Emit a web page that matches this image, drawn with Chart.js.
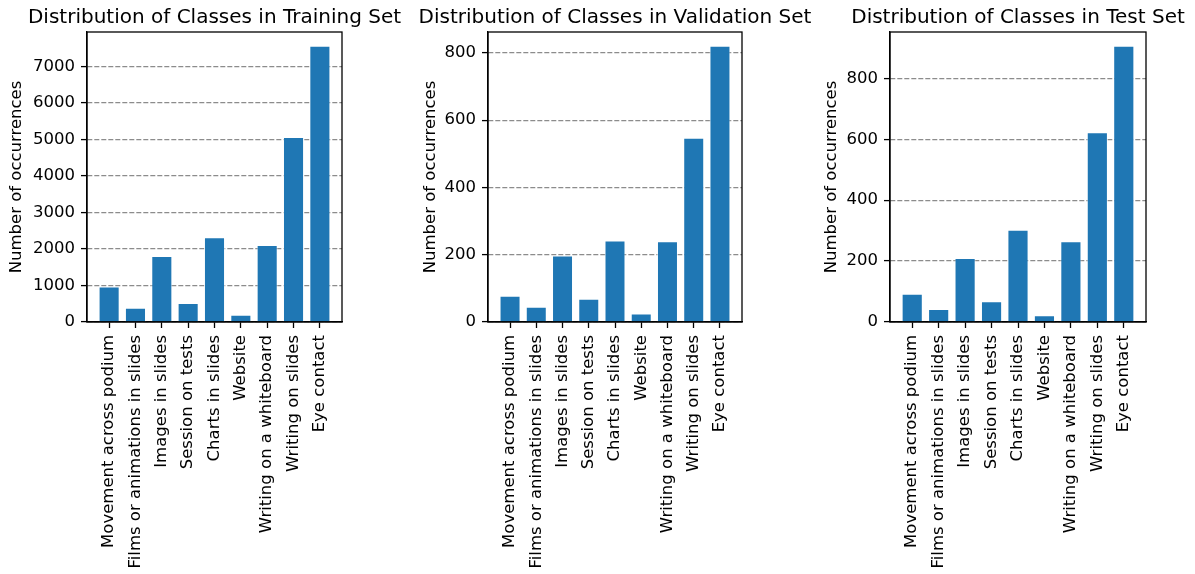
<!DOCTYPE html>
<html>
<head>
<meta charset="utf-8">
<script src="https://cdn.jsdelivr.net/npm/chart.js@4"></script>
<style>
  body { margin: 0; background: #fff; width: 1195px; height: 574px; position: relative; overflow: hidden; }
  canvas { position: absolute; top: 0; }
</style>
</head>
<body>
<canvas id="trainChart" width="402" height="574" style="left:0px"></canvas>
<canvas id="valChart" width="402" height="574" style="left:414px"></canvas>
<canvas id="testChart" width="380" height="574" style="left:815px"></canvas>
<script>
const categories = [
  'Movement across podium',
  'Films or animations in slides',
  'Images in slides',
  'Session on tests',
  'Charts in slides',
  'Website',
  'Writing on a whiteboard',
  'Writing on slides',
  'Eye contact'
];
const trainCounts = [975, 390, 1805, 520, 2318, 200, 2108, 5064, 7564];
const valCounts = [78, 45, 198, 69, 242, 25, 240, 548, 821];
const testCounts = [93, 43, 210, 68, 303, 22, 265, 623, 907];

const FONT = 'DejaVu Sans';
const BAR_BLUE = '#1f77b4';

// matplotlib-like frame on all four sides, drawn over the bars,
// plus a title centred on the plot area that may overflow it
const framePlugin = {
  id: 'frame',
  afterDatasetsDraw(chart) {
    const { ctx, chartArea: a } = chart;
    ctx.save();
    ctx.strokeStyle = '#000';
    ctx.lineWidth = 1.3;
    ctx.strokeRect(a.left, a.top, a.right - a.left, a.bottom - a.top);
    const title = chart.options.plugins.frame.title;
    ctx.fillStyle = '#000';
    ctx.font = `20px "${FONT}"`;
    ctx.textAlign = 'center';
    ctx.textBaseline = 'alphabetic';
    ctx.fillText(title, (a.left + a.right) / 2, 23);
    ctx.restore();
  }
};

function makeChart(id, title, counts, step, yAxisWidth, padRight) {
  const n = categories.length;
  const span = (n - 1) + 0.8;
  const yMax = Math.max(...counts) * 1.05;
  return new Chart(document.getElementById(id), {
    type: 'bar',
    data: {
      datasets: [{
        data: counts.map((v, i) => ({ x: i, y: v })),
        backgroundColor: BAR_BLUE,
        borderColor: 'rgba(255,255,255,0.55)',
        borderWidth: 1,
        categoryPercentage: 0.8,
        barPercentage: 1.0
      }]
    },
    options: {
      responsive: false,
      animation: false,
      layout: { padding: { top: 32, right: padRight, bottom: 0, left: 0 } },
      plugins: {
        legend: { display: false },
        tooltip: { enabled: false },
        title: { display: false },
        frame: { title: title }
      },
      scales: {
        x: {
          type: 'linear',
          offset: false,
          min: -0.4 - 0.05 * span,
          max: n - 1 + 0.4 + 0.05 * span,
          afterBuildTicks: (s) => { s.ticks = categories.map((c, i) => ({ value: i })); },
          afterFit: (s) => { s.height = 252; },
          grid: { offset: false, drawOnChartArea: false, drawTicks: true, tickLength: 6, tickColor: '#000', tickWidth: 1.3 },
          border: { display: true, color: '#000', width: 1.3 },
          ticks: {
            autoSkip: false,
            minRotation: 90,
            maxRotation: 90,
            padding: 7,
            color: '#000',
            font: { family: FONT, size: 16.5 },
            callback: (v) => categories[v] ?? ''
          }
        },
        y: {
          min: 0,
          max: yMax,
          afterBuildTicks: (s) => {
            const t = [];
            for (let v = 0; v <= yMax; v += step) t.push({ value: v });
            s.ticks = t;
          },
          afterFit: (s) => { s.width = yAxisWidth; },
          grid: {
            color: '#8c8c8c',
            lineWidth: 1.2,
            drawTicks: true,
            tickLength: 6,
            tickColor: '#000',
            tickWidth: 1.3,
            tickBorderDash: []
          },
          border: { display: true, color: '#000', width: 1.3, dash: [5, 2] },
          ticks: {
            padding: 6,
            color: '#000',
            font: { family: FONT, size: 16.5 },
            callback: (v) => String(Math.round(v))
          },
          title: {
            display: true,
            text: 'Number of occurrences',
            color: '#000',
            font: { family: FONT, size: 16.5 },
            padding: { top: 7, bottom: 0 }
          }
        }
      }
    },
    plugins: [framePlugin]
  });
}

makeChart('trainChart', 'Distribution of Classes in Training Set', trainCounts, 1000, 87, 60);
makeChart('valChart', 'Distribution of Classes in Validation Set', valCounts, 200, 74, 74);
makeChart('testChart', 'Distribution of Classes in Test Set', testCounts, 200, 75, 49);
</script>
</body>
</html>
